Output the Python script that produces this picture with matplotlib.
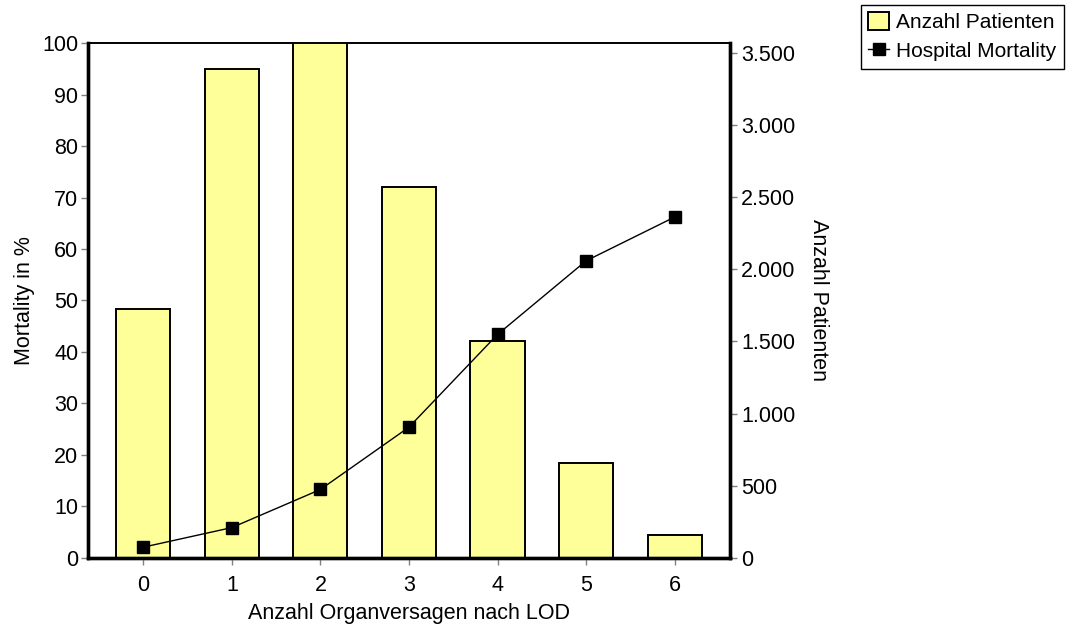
#!/usr/bin/env python3
"""Mortality vs. number of organ failures (LOD) with patient counts."""

import matplotlib

matplotlib.use("Agg")
import matplotlib.pyplot as plt

organ_failures = [0, 1, 2, 3, 4, 5, 6]
patients = [1725, 3390, 3600, 2570, 1505, 660, 160]
mortality = [2.1, 5.9, 13.3, 25.4, 43.4, 57.7, 66.2]

left_ticks = [0, 10, 20, 30, 40, 50, 60, 70, 80, 90, 100]
right_ticks = [0, 500, 1000, 1500, 2000, 2500, 3000, 3500]
right_labels = ["0", "500", "1.000", "1.500", "2.000", "2.500", "3.000", "3.500"]

plt.rcParams["font.family"] = ["Liberation Sans", "DejaVu Sans"]
plt.rcParams["font.size"] = 15.5

fig = plt.figure(figsize=(10.7, 6.28), dpi=100)
ax = fig.add_axes([0.0822, 0.1115, 0.6, 0.82])
ax2 = ax.twinx()

bars = ax2.bar(organ_failures, patients, width=0.61, color="#ffff99",
               edgecolor="black", linewidth=1.4, label="Anzahl Patienten")
line, = ax.plot(organ_failures, mortality, color="black", linewidth=1.0,
                marker="s", markersize=9, label="Hospital Mortality")

# line above the bars of the twin axis
ax.set_zorder(ax2.get_zorder() + 1)
ax.patch.set_visible(False)

ax.set_xlim(-0.625, 6.625)
ax.set_ylim(0, 100)
ax2.set_ylim(0, 3568)
ax.set_xticks(organ_failures)
ax.set_yticks(left_ticks)
ax2.set_yticks(right_ticks)
ax2.set_yticklabels(right_labels)

for a in (ax, ax2):
    for side in ("left", "bottom", "right"):
        a.spines[side].set_linewidth(2.4)
        a.spines[side].set_color("black")
    a.spines["top"].set_linewidth(1.2)
    a.tick_params(direction="out", length=5, width=1, color="#808080")
ax.tick_params(axis="y", pad=2)
ax.tick_params(axis="x", pad=7)
ax2.tick_params(axis="y", pad=3)

ax.set_xlabel("Anzahl Organversagen nach LOD", labelpad=5)
ax.set_ylabel("Mortality in %", labelpad=5)
ax2.set_ylabel("Anzahl Patienten", rotation=-90, va="bottom", labelpad=9)

leg = fig.legend([bars, line], ["Anzahl Patienten", "Hospital Mortality"],
                 loc="upper left", bbox_to_anchor=(0.8045, 0.992),
                 bbox_transform=fig.transFigure, borderaxespad=0,
                 fancybox=False, framealpha=1, edgecolor="black",
                 fontsize=15, handlelength=1.0, handleheight=0.9,
                 handletextpad=0.35, labelspacing=0.45, borderpad=0.35,
                 markerscale=0.9)
leg.get_frame().set_linewidth(1.0)

fig.savefig("out.png", dpi=100)
